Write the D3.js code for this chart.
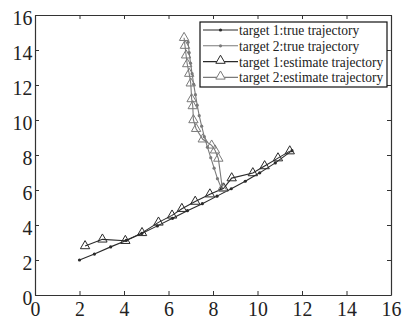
<!DOCTYPE html>
<html>
<head>
<meta charset="utf-8">
<script src="https://cdn.jsdelivr.net/npm/d3@7"></script>
<style>
  html, body { margin: 0; padding: 0; background: #fff; }
  svg { display: block; }
  svg text { font-family: "Liberation Serif", "Times New Roman", Times, "DejaVu Serif", serif !important; fill: #222; }
</style>
</head>
<body>
<svg id="chart" width="411" height="322"></svg>
<script>
// Target 1: true path (dots) and estimated path (triangles)
const t1TrueX = [2.0, 2.67, 3.40, 4.10, 4.80, 5.50, 6.18, 6.85, 7.52, 8.18, 8.82, 9.45, 10.10, 10.80, 11.55];
const t1TrueY = [2.0, 2.34, 2.75, 3.12, 3.52, 3.95, 4.38, 4.82, 5.22, 5.65, 6.07, 6.50, 6.98, 7.55, 8.25];
const t1EstX = [2.25, 3.03, 4.06, 4.81, 5.55, 6.16, 6.60, 7.20, 7.86, 8.48, 8.84, 9.79, 10.32, 10.92, 11.45];
const t1EstY = [2.80, 3.18, 3.10, 3.55, 4.15, 4.55, 4.93, 5.34, 5.76, 6.10, 6.68, 6.97, 7.37, 7.82, 8.22];

// Target 2: true path (dots) and estimated path (triangles)
const t2TrueX = [6.88, 6.93, 6.99, 7.06, 7.13, 7.21, 7.29, 7.38, 7.49, 7.61, 7.75, 7.90, 8.05, 8.20, 8.38];
const t2TrueY = [14.45, 13.85, 13.25, 12.65, 12.05, 11.45, 10.85, 10.25, 9.65, 9.05, 8.45, 7.85, 7.25, 6.65, 6.10];
const t2EstX = [6.70, 6.74, 6.79, 6.84, 6.93, 7.00, 7.04, 7.09, 7.12, 7.24, 7.54, 7.94, 8.09, 8.24, 8.42];
const t2EstY = [14.70, 14.25, 13.70, 13.20, 12.65, 12.10, 11.20, 10.80, 10.00, 9.50, 8.90, 8.55, 8.27, 7.80, 6.10];

const xTicks = [0, 2, 4, 6, 8, 10, 12, 14, 16];
const yTicks = [0, 2, 4, 6, 8, 10, 12, 14, 16];

const legendLabels = [
  "target 1:true trajectory",
  "target 2:true trajectory",
  "target 1:estimate trajectory",
  "target 2:estimate trajectory"
];

const dark = "#2a2a2a";
const gray = "#7a7a7a";
const serif = '"Liberation Serif", "Times New Roman", Times, serif';

const svg = d3.select("#chart");
const plotLeft = 35, plotRight = 391, plotTop = 15, plotBottom = 295;

const x = d3.scaleLinear().domain([0, 16]).range([plotLeft, plotRight]);
const y = d3.scaleLinear().domain([0, 16]).range([plotBottom, plotTop]);

// Axes with inward ticks on all four sides
const axisColor = "#333";
function styleAxis(g) {
  g.attr("font-family", serif);
  g.select(".domain").attr("stroke", axisColor).attr("stroke-width", 1.2);
  g.selectAll(".tick line").attr("stroke", axisColor);
}

svg.append("g").attr("transform", `translate(0,${plotBottom})`)
  .call(d3.axisBottom(x).tickValues(xTicks).tickSizeInner(-4).tickSizeOuter(0).tickPadding(5).tickFormat(d3.format("d")))
  .call(styleAxis)
  .call(g => g.selectAll(".tick text")
    .attr("font-size", 22).attr("fill", "#222")
    .attr("transform", "scale(0.9,1)"));

svg.append("g").attr("transform", `translate(${plotLeft},0)`)
  .call(d3.axisLeft(y).tickValues(yTicks).tickSizeInner(-4).tickSizeOuter(0).tickPadding(3).tickFormat(d3.format("d")))
  .call(styleAxis)
  .call(g => g.selectAll(".tick text")
    .attr("font-size", 22).attr("fill", "#222")
    .attr("dy", "0.42em")
    .attr("transform", "scale(0.9,1)"));

svg.append("g").attr("transform", `translate(0,${plotTop})`)
  .call(d3.axisTop(x).tickValues(xTicks).tickSizeInner(-4).tickSizeOuter(0).tickFormat(""))
  .call(styleAxis);

svg.append("g").attr("transform", `translate(${plotRight},0)`)
  .call(d3.axisRight(y).tickValues(yTicks).tickSizeInner(-4).tickSizeOuter(0).tickFormat(""))
  .call(styleAxis);

// Series
const zip = (xs, ys) => xs.map((v, i) => [v, ys[i]]);
const line = d3.line().x(d => x(d[0])).y(d => y(d[1]));
const tri = d3.symbol().type(d3.symbolTriangle).size(38);

const series = [
  { pts: zip(t1TrueX, t1TrueY), color: dark, marker: "dot" },
  { pts: zip(t2TrueX, t2TrueY), color: gray, marker: "dot" },
  { pts: zip(t1EstX, t1EstY), color: dark, marker: "tri" },
  { pts: zip(t2EstX, t2EstY), color: gray, marker: "tri" }
];

const plot = svg.append("g");
series.forEach(s => {
  plot.append("path").datum(s.pts)
    .attr("d", line).attr("fill", "none")
    .attr("stroke", s.color).attr("stroke-width", 1.1);
  if (s.marker === "dot") {
    plot.selectAll(null).data(s.pts).enter().append("circle")
      .attr("cx", d => x(d[0])).attr("cy", d => y(d[1])).attr("r", 1.6)
      .attr("fill", s.color);
  } else {
    plot.selectAll(null).data(s.pts).enter().append("path")
      .attr("d", tri)
      .attr("transform", d => `translate(${x(d[0])},${y(d[1])})`)
      .attr("fill", "none").attr("stroke", s.color).attr("stroke-width", 1);
  }
});

// Legend
const lg = svg.append("g").attr("font-family", serif);
const lgX = 200, lgY = 22, lgW = 187, lgH = 65;
lg.append("rect").attr("x", lgX).attr("y", lgY).attr("width", lgW).attr("height", lgH)
  .attr("fill", "#fff").attr("stroke", "#111").attr("stroke-width", 1.2);
series.forEach((s, i) => {
  const cy = lgY + 8 + i * 15.8;
  lg.append("line").attr("x1", lgX + 3).attr("x2", lgX + 38).attr("y1", cy).attr("y2", cy)
    .attr("stroke", s.color).attr("stroke-width", 1.1);
  if (s.marker === "dot") {
    lg.append("circle").attr("cx", lgX + 20.5).attr("cy", cy).attr("r", 1.6).attr("fill", s.color);
  } else {
    lg.append("path").attr("d", tri).attr("transform", `translate(${lgX + 20.5},${cy - 1})`)
      .attr("fill", "#fff").attr("stroke", s.color).attr("stroke-width", 1);
  }
  lg.append("text")
    .attr("transform", `translate(${lgX + 39},${cy + 5}) scale(0.9,1)`)
    .attr("font-size", 15).attr("fill", "#222")
    .text(legendLabels[i]);
});
</script>
</body>
</html>
